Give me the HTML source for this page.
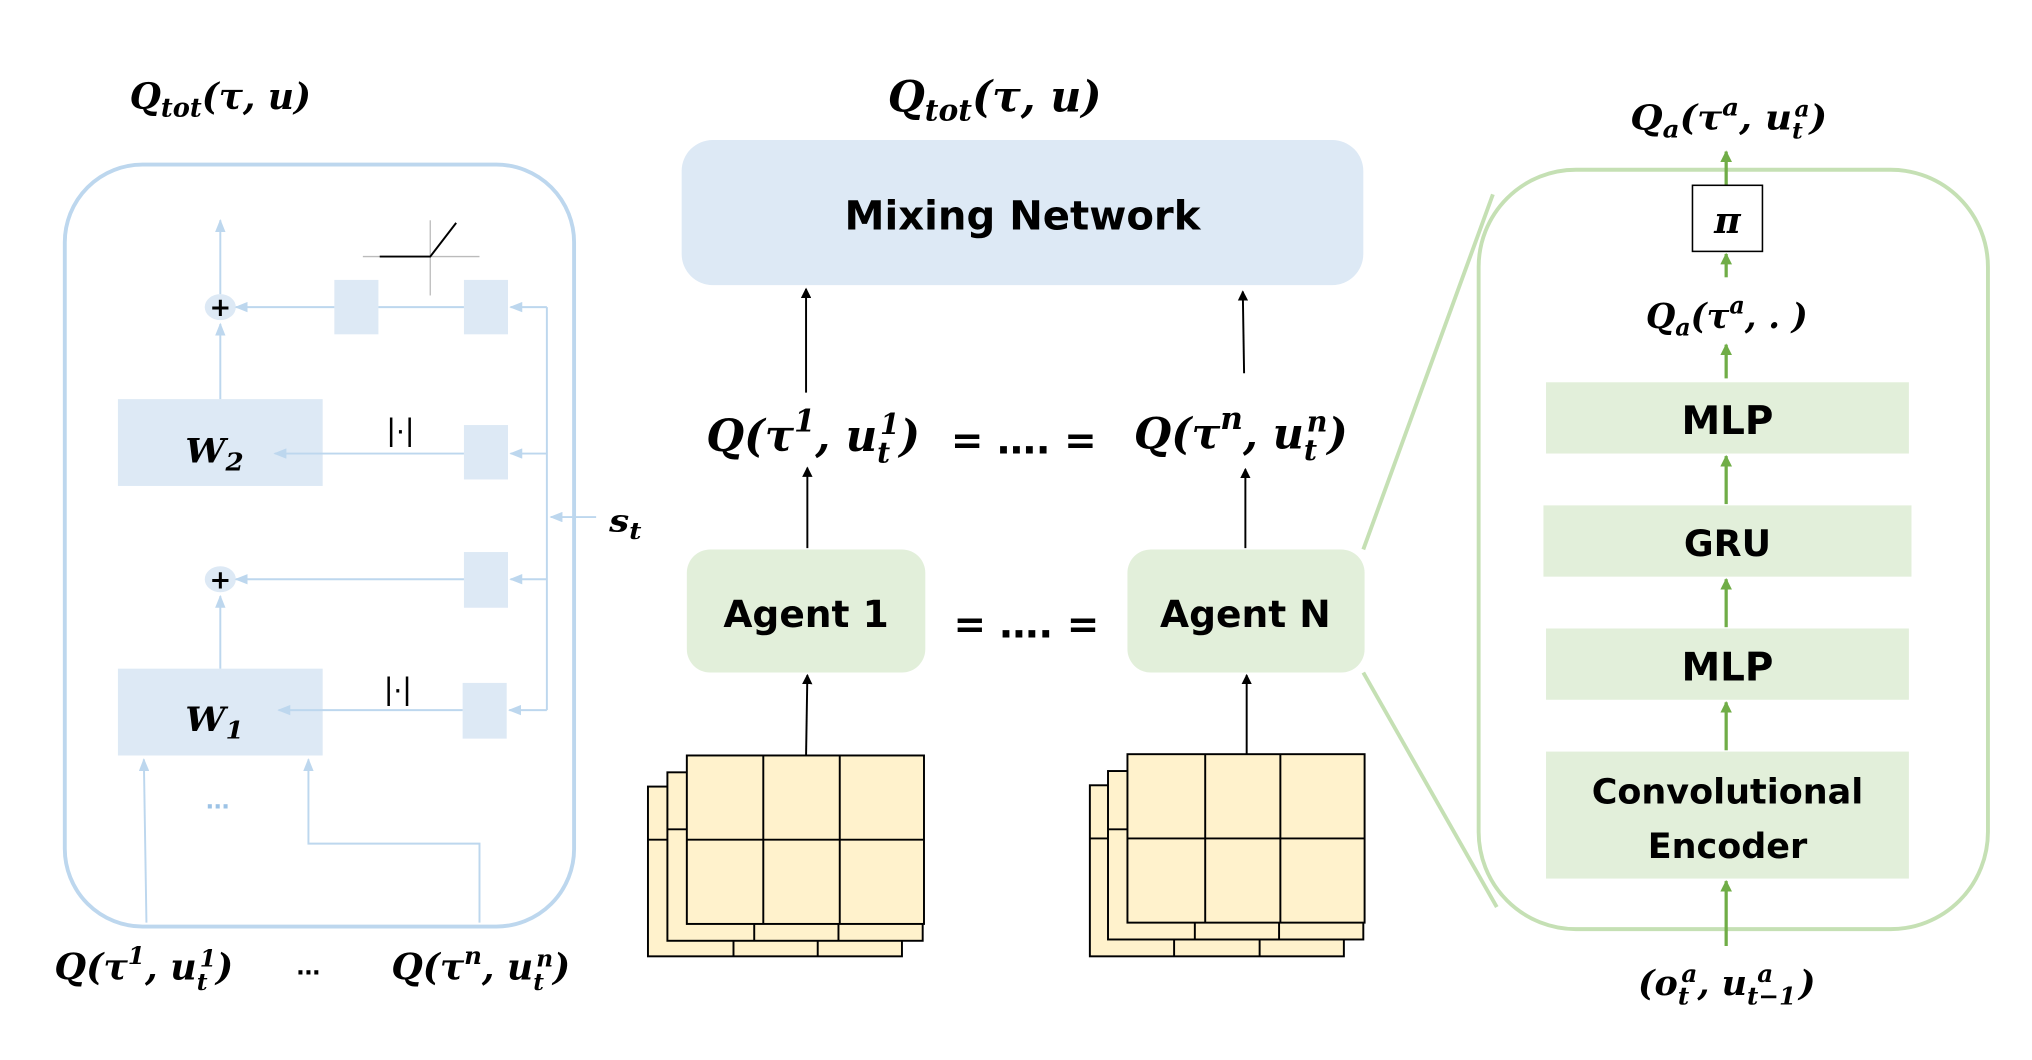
<!DOCTYPE html>
<html><head><meta charset="utf-8"><style>
html,body{margin:0;padding:0;background:#fff;}
svg{display:block;}
.m{font-family:"DejaVu Serif","Liberation Serif",serif;font-weight:bold;font-style:italic;fill:#000;}
.s{font-family:"DejaVu Sans",sans-serif;font-weight:bold;fill:#000;}
</style></head><body>
<svg width="2032" height="1060" viewBox="0 0 1568 818" preserveAspectRatio="none" xmlns="http://www.w3.org/2000/svg">
<defs>
<marker id="ab" markerWidth="10" markerHeight="8" refX="9" refY="4" orient="auto" markerUnits="userSpaceOnUse"><path d="M0,0 L10,4 L0,8 z" fill="#bdd7ee"/></marker>
<marker id="ak" markerWidth="8" markerHeight="8" refX="7" refY="4" orient="auto" markerUnits="userSpaceOnUse"><path d="M0,0 L8,4 L0,8 z" fill="#000"/></marker>
<marker id="ag" markerWidth="9" markerHeight="9" refX="8" refY="4.5" orient="auto" markerUnits="userSpaceOnUse"><path d="M0,0 L9,4.5 L0,9 z" fill="#70ad47"/></marker>
</defs>

<!-- LEFT PANEL -->
<text class="m" x="100" y="84" font-size="28" textLength="140" lengthAdjust="spacingAndGlyphs">Q<tspan font-size="20" dy="6">tot</tspan><tspan dy="-6">(τ, u)</tspan></text>
<rect x="50" y="127" width="393" height="588" rx="60" fill="none" stroke="#bdd7ee" stroke-width="3"/>
<g fill="#dde9f5">
<rect x="258" y="216" width="34" height="42"/>
<rect x="358" y="216" width="34" height="42"/>
<rect x="358" y="328" width="34" height="42"/>
<rect x="358" y="426" width="34" height="43"/>
<rect x="357" y="527" width="34" height="43"/>
<rect x="91" y="308" width="158" height="67"/>
<rect x="91" y="516" width="158" height="67"/>
<ellipse cx="170" cy="237" rx="12" ry="10"/>
<ellipse cx="170" cy="447" rx="12" ry="10"/>
</g>
<g stroke="#bdd7ee" stroke-width="1.5" fill="none">
<line x1="170" y1="227" x2="170" y2="170" marker-end="url(#ab)"/>
<line x1="258" y1="237" x2="182" y2="237" marker-end="url(#ab)"/>
<line x1="292" y1="237" x2="358" y2="237"/>
<line x1="170" y1="308" x2="170" y2="250" marker-end="url(#ab)"/>
<line x1="358" y1="350" x2="212" y2="350" marker-end="url(#ab)"/>
<line x1="358" y1="447" x2="182" y2="447" marker-end="url(#ab)"/>
<line x1="170" y1="516" x2="170" y2="460" marker-end="url(#ab)"/>
<line x1="357" y1="548" x2="215" y2="548" marker-end="url(#ab)"/>
<polyline points="422,237 422,548"/>
<line x1="422" y1="237" x2="394" y2="237" marker-end="url(#ab)"/>
<line x1="422" y1="350" x2="394" y2="350" marker-end="url(#ab)"/>
<line x1="422" y1="447" x2="394" y2="447" marker-end="url(#ab)"/>
<line x1="422" y1="548" x2="393" y2="548" marker-end="url(#ab)"/>
<line x1="460" y1="399" x2="425" y2="399" marker-end="url(#ab)"/>
<line x1="113" y1="712" x2="111" y2="586" marker-end="url(#ab)"/>
<polyline points="370,712 370,651 238,651 238,586" marker-end="url(#ab)"/>
</g>
<text x="170" y="244" font-size="20" text-anchor="middle" font-family="DejaVu Sans,sans-serif" font-weight="bold">+</text>
<text x="170" y="454" font-size="20" text-anchor="middle" font-family="DejaVu Sans,sans-serif" font-weight="bold">+</text>
<line x1="280" y1="198" x2="370" y2="198" stroke="#bbb" stroke-width="1"/>
<line x1="332" y1="170" x2="332" y2="228" stroke="#bbb" stroke-width="1"/>
<polyline points="293,198 332,198 352,172" fill="none" stroke="#000" stroke-width="1.5"/>
<text class="m" x="143" y="357" font-size="26" textLength="45" lengthAdjust="spacingAndGlyphs">W<tspan font-size="19" dy="6">2</tspan></text>
<text class="m" x="143" y="564" font-size="26" textLength="45" lengthAdjust="spacingAndGlyphs">W<tspan font-size="19" dy="6">1</tspan></text>
<text x="309" y="340" font-size="24" text-anchor="middle" font-family="Liberation Sans,sans-serif">|·|</text>
<text x="307" y="540" font-size="24" text-anchor="middle" font-family="Liberation Sans,sans-serif">|·|</text>
<text x="168" y="624" font-size="22" text-anchor="middle" fill="#9dc3e6" font-family="Liberation Sans,sans-serif" font-weight="bold">...</text>
<text class="m" x="470" y="410" font-size="24" textLength="25" lengthAdjust="spacingAndGlyphs">s<tspan font-size="18" dy="6">t</tspan></text>
<text class="m" x="42" y="756" font-size="28" textLength="138" lengthAdjust="spacingAndGlyphs">Q(τ<tspan font-size="19" dy="-12">1</tspan><tspan dy="12">, u</tspan><tspan font-size="18" dy="8">t</tspan><tspan font-size="18" dx="-6" dy="-18">1</tspan><tspan dy="10">)</tspan></text>
<text x="238" y="752" font-size="22" text-anchor="middle" font-family="Liberation Sans,sans-serif" font-weight="bold">...</text>
<text class="m" x="302" y="756" font-size="28" textLength="138" lengthAdjust="spacingAndGlyphs">Q(τ<tspan font-size="19" dy="-12">n</tspan><tspan dy="12">, u</tspan><tspan font-size="18" dy="8">t</tspan><tspan font-size="18" dx="-6" dy="-18">n</tspan><tspan dy="10">)</tspan></text>

<!-- MIDDLE -->
<text class="m" x="685" y="86" font-size="33" textLength="165" lengthAdjust="spacingAndGlyphs">Q<tspan font-size="23" dy="7">tot</tspan><tspan dy="-7">(τ, u)</tspan></text>
<rect x="526" y="108" width="526" height="112" rx="24" fill="#dde9f5"/>
<text class="s" x="789" y="177" font-size="31" text-anchor="middle">Mixing Network</text>
<g stroke="#000" stroke-width="1.5">
<line x1="622" y1="303" x2="622" y2="223" marker-end="url(#ak)"/>
<line x1="960" y1="288" x2="959" y2="225" marker-end="url(#ak)"/>
<line x1="623" y1="423" x2="623" y2="361" marker-end="url(#ak)"/>
<line x1="961" y1="423" x2="961" y2="362" marker-end="url(#ak)"/>
<line x1="622" y1="583" x2="623" y2="521" marker-end="url(#ak)"/>
<line x1="962" y1="582" x2="962" y2="521" marker-end="url(#ak)"/>
</g>
<text class="m" x="545" y="348" font-size="34" textLength="165" lengthAdjust="spacingAndGlyphs">Q(τ<tspan font-size="24" dy="-15">1</tspan><tspan dy="15">, u</tspan><tspan font-size="22" dy="9">t</tspan><tspan font-size="22" dx="-8" dy="-22">1</tspan><tspan dy="13">)</tspan></text>
<text x="790" y="350" font-size="30" text-anchor="middle" font-family="DejaVu Sans,sans-serif" font-weight="bold">=  …. =</text>
<text class="m" x="875" y="346" font-size="33" textLength="165" lengthAdjust="spacingAndGlyphs">Q(τ<tspan font-size="24" dy="-15">n</tspan><tspan dy="15">, u</tspan><tspan font-size="22" dy="9">t</tspan><tspan font-size="22" dx="-8" dy="-22">n</tspan><tspan dy="13">)</tspan></text>
<rect x="530" y="424" width="184" height="95" rx="18" fill="#e2efda"/>
<rect x="870" y="424" width="183" height="95" rx="18" fill="#e2efda"/>
<text class="s" x="622" y="484" font-size="29" text-anchor="middle">Agent 1</text>
<text class="s" x="961" y="484" font-size="29" text-anchor="middle">Agent N</text>
<text x="792" y="492" font-size="30" text-anchor="middle" font-family="DejaVu Sans,sans-serif" font-weight="bold">=  …. =</text>

<g fill="#fff2cc" stroke="#000" stroke-width="1.5">
<rect x="500" y="607" width="196" height="131"/>
<line x1="566" y1="712" x2="566" y2="738"/><line x1="631" y1="712" x2="631" y2="738"/>
<rect x="515" y="596" width="197" height="130"/>
<line x1="582" y1="713" x2="582" y2="726"/><line x1="647" y1="713" x2="647" y2="726"/>
<rect x="530" y="583" width="183" height="130"/>
<line x1="589" y1="583" x2="589" y2="713"/><line x1="648" y1="583" x2="648" y2="713"/>
<line x1="530" y1="648" x2="713" y2="648"/>
<line x1="500" y1="648" x2="515" y2="648"/><line x1="515" y1="640" x2="530" y2="640"/>

<rect x="841" y="606" width="196" height="132"/>
<line x1="906" y1="712" x2="906" y2="738"/><line x1="972" y1="712" x2="972" y2="738"/>
<rect x="855" y="595" width="197" height="130"/>
<line x1="922" y1="712" x2="922" y2="725"/><line x1="987" y1="712" x2="987" y2="725"/>
<rect x="870" y="582" width="183" height="130"/>
<line x1="930" y1="582" x2="930" y2="712"/><line x1="988" y1="582" x2="988" y2="712"/>
<line x1="870" y1="647" x2="1053" y2="647"/>
<line x1="841" y1="647" x2="855" y2="647"/><line x1="855" y1="640" x2="870" y2="640"/>
</g>

<!-- RIGHT PANEL -->
<line x1="1052" y1="424" x2="1152" y2="150" stroke="#c5e0b4" stroke-width="3"/>
<line x1="1052" y1="519" x2="1155" y2="700" stroke="#c5e0b4" stroke-width="3"/>
<rect x="1141" y="131" width="393" height="586" rx="75" fill="#fff" stroke="#c5e0b4" stroke-width="3"/>
<text class="m" x="1258" y="100" font-size="27" textLength="152" lengthAdjust="spacingAndGlyphs">Q<tspan font-size="19" dy="6">a</tspan><tspan dy="-6">(τ</tspan><tspan font-size="19" dy="-11">a</tspan><tspan dy="11">, u</tspan><tspan font-size="17" dy="7">t</tspan><tspan font-size="17" dx="-6" dy="-17">a</tspan><tspan dy="10">)</tspan></text>
<g stroke="#70ad47" stroke-width="2.5">
<line x1="1332" y1="143" x2="1332" y2="117" marker-end="url(#ag)"/>
<line x1="1332" y1="214" x2="1332" y2="196" marker-end="url(#ag)"/>
<line x1="1332" y1="292" x2="1332" y2="266" marker-end="url(#ag)"/>
<line x1="1332" y1="389" x2="1332" y2="352" marker-end="url(#ag)"/>
<line x1="1332" y1="484" x2="1332" y2="447" marker-end="url(#ag)"/>
<line x1="1332" y1="579" x2="1332" y2="542" marker-end="url(#ag)"/>
<line x1="1332" y1="730" x2="1332" y2="680" marker-end="url(#ag)"/>
</g>
<rect x="1306" y="143" width="54" height="51" fill="#fff" stroke="#000" stroke-width="1.2"/>
<text class="m" x="1333" y="180" font-size="28" text-anchor="middle">π</text>
<text class="m" x="1270" y="253" font-size="27" textLength="125" lengthAdjust="spacingAndGlyphs">Q<tspan font-size="19" dy="6">a</tspan><tspan dy="-6">(τ</tspan><tspan font-size="19" dy="-11">a</tspan><tspan dy="11">, . )</tspan></text>
<g fill="#e2efda">
<rect x="1193" y="295" width="280" height="55"/>
<rect x="1191" y="390" width="284" height="55"/>
<rect x="1193" y="485" width="280" height="55"/>
<rect x="1193" y="580" width="280" height="98"/>
</g>
<text class="s" x="1333" y="335" font-size="30" text-anchor="middle">MLP</text>
<text class="s" x="1333" y="429" font-size="28" text-anchor="middle">GRU</text>
<text class="s" x="1333" y="525" font-size="30" text-anchor="middle">MLP</text>
<text class="s" x="1333" y="620" font-size="27" text-anchor="middle">Convolutional</text>
<text class="s" x="1333" y="662" font-size="27" text-anchor="middle">Encoder</text>
<text class="m" x="1264" y="768" font-size="27" textLength="137" lengthAdjust="spacingAndGlyphs">(o<tspan font-size="19" dy="7">t</tspan><tspan font-size="19" dx="-6" dy="-17">a</tspan><tspan dy="10">, u</tspan><tspan font-size="19" dy="7">t−1</tspan><tspan font-size="19" dx="-30" dy="-17">a</tspan><tspan dx="20" dy="10">)</tspan></text>
</svg>
</body></html>
